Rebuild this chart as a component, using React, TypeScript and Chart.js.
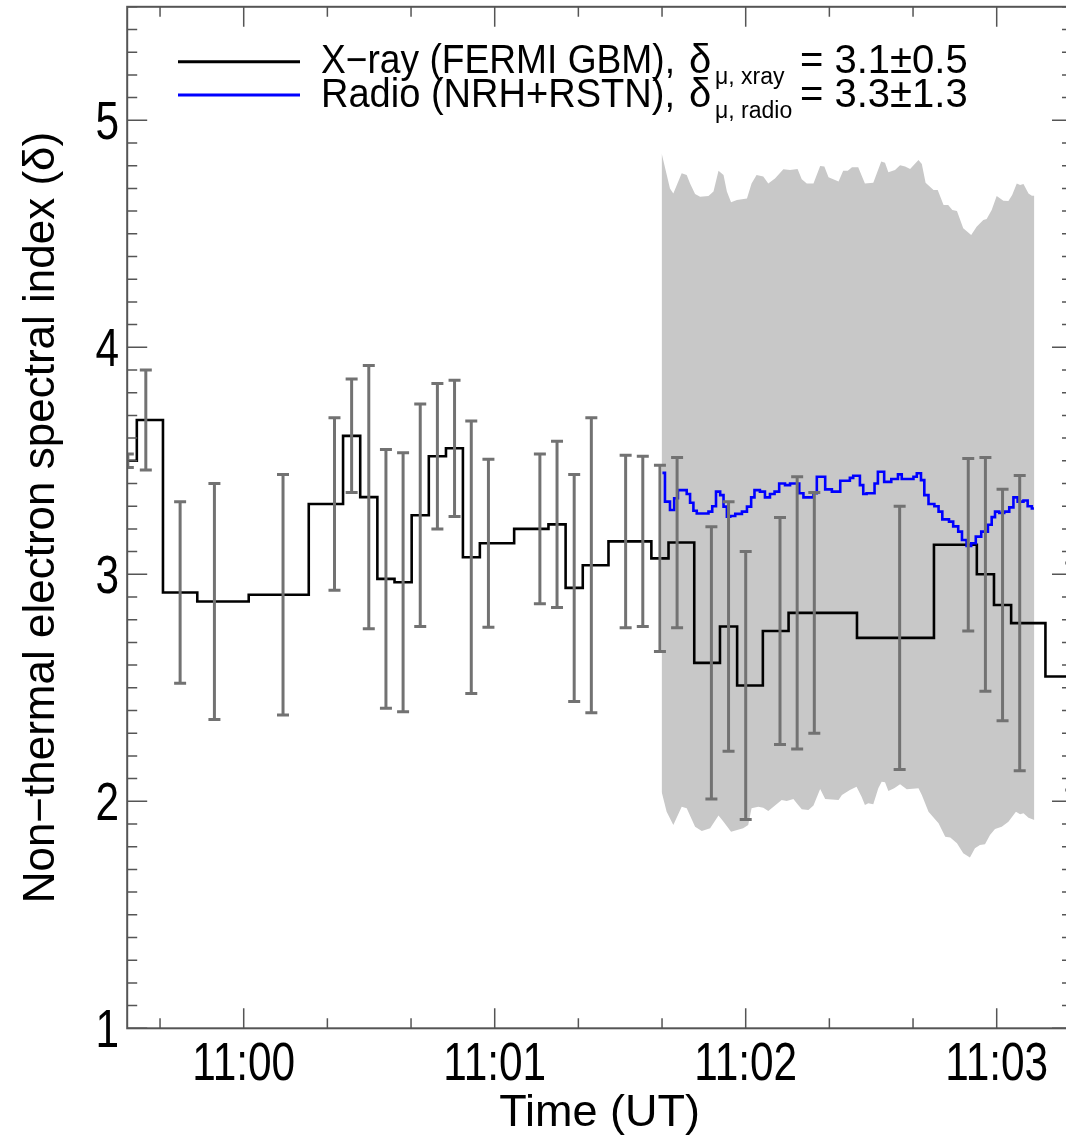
import React, { useEffect, useRef } from 'react';
import { Chart, registerables } from 'chart.js';

Chart.register(...registerables);

// ---- axis ranges (x in seconds after 11:00:00 UT) ----
const X_MIN = -27.85;
const X_MAX = 198.0;
const Y_MIN = 1;
const Y_MAX = 5.5;

const xTickSeconds = [0, 60, 120, 180];
const xTickLabels = ['11:00', '11:01', '11:02', '11:03'];
const yTickValues = [1, 2, 3, 4, 5];
const yTickLabels = ['1', '2', '3', '4', '5'];

// ---- X-ray (FERMI GBM) spectral index ----
const xrayTimes = [
  -27.7, -23.4, -15.2, -7.0, 9.4, 21.7, 25.8, 29.9, 34.0, 38.1, 42.2, 46.3,
  50.4, 54.4, 58.5, 70.8, 74.9, 79.0, 83.1, 91.3, 95.4, 99.5, 103.6, 111.8,
  115.9, 120.0, 128.2, 132.3, 136.4, 156.8, 173.2, 177.3, 181.4, 185.5, 197.8,
];
const xrayDelta = [
  3.50, 3.68, 2.92, 2.88, 2.91, 3.31, 3.61, 3.34, 2.98, 2.965, 3.26, 3.52,
  3.555, 3.075, 3.137, 3.20, 3.22, 2.94, 3.04, 3.145, 3.145, 3.07, 3.14, 2.61,
  2.77, 2.51, 2.75, 2.83, 2.83, 2.72, 3.13, 3.00, 2.865, 2.785, 2.55,
];
const xrayErr = [
  0.03, 0.22, 0.40, 0.52, 0.53, 0.38, 0.25, 0.58, 0.57, 0.57, 0.49, 0.32,
  0.30, 0.60, 0.37, 0.33, 0.366, 0.50, 0.65, 0.38, 0.375, 0.41, 0.375, 0.60,
  0.55, 0.59, 0.50, 0.60, 0.53, 0.58, 0.38, 0.515, 0.51, 0.65, 0.50,
];

// ---- Radio (NRH+RSTN) spectral index (step starts) ----
const radioTimes = [
  100.1, 100.7, 101.9, 102.9, 103.8, 105.9, 106.7, 107.5, 108.3, 111.1, 112.0,
  112.9, 113.9, 114.7, 115.5, 116.3, 117.5, 119.1, 120.3, 121.3, 122.1, 123.4,
  124.6, 125.8, 126.9, 128.0, 129.4, 130.6, 132.8, 133.8, 136.2, 137.0, 139.0,
  140.6, 142.6, 144.9, 145.7, 147.3, 148.1, 148.9, 150.8, 151.6, 153.1, 154.8,
  156.4, 157.3, 160.1, 160.9, 161.9, 162.7, 163.7, 165.1, 166.1, 167.0, 168.6,
  169.6, 170.8, 171.7, 172.8, 173.9, 175.0, 176.3, 177.9, 178.8, 179.6, 180.6,
  181.8, 183.0, 184.0, 185.0, 186.4, 187.4, 188.4, 188.9,
];
const radioDelta = [
  3.447, 3.320, 3.283, 3.335, 3.371, 3.354, 3.315, 3.280, 3.268, 3.276, 3.300,
  3.364, 3.349, 3.298, 3.254, 3.257, 3.266, 3.276, 3.298, 3.339, 3.371, 3.364,
  3.339, 3.354, 3.364, 3.400, 3.393, 3.400, 3.357, 3.339, 3.357, 3.430, 3.374,
  3.364, 3.412, 3.425, 3.434, 3.393, 3.354, 3.357, 3.400, 3.452, 3.407, 3.420,
  3.440, 3.420, 3.430, 3.445, 3.415, 3.349, 3.310, 3.300, 3.276, 3.242, 3.232,
  3.211, 3.188, 3.151, 3.125, 3.137, 3.166, 3.188, 3.218, 3.252, 3.276, 3.270,
  3.276, 3.295, 3.339, 3.320, 3.325, 3.300, 3.290, 3.290,
];

// ---- Radio uncertainty band ----
const bandUpperTimes = [
  99.9, 101.9, 102.7, 104.7, 105.9, 106.7, 107.9, 109.1, 111.1, 112.3, 113.5,
  114.7, 115.5, 116.5, 117.9, 120.3, 121.4, 122.6, 124.2, 125.4, 127.0, 129.0,
  130.6, 132.4, 133.4, 134.6, 136.2, 137.8, 138.8, 139.8, 142.2, 143.3, 144.4,
  145.4, 146.9, 148.5, 150.5, 152.4, 153.3, 154.1, 155.7, 156.9, 158.1, 159.3,
  161.3, 162.1, 163.0, 164.9, 165.9, 167.3, 168.4, 169.4, 170.5, 172.0, 173.9,
  175.2, 176.8, 177.6, 178.8, 180.0, 181.6, 182.8, 183.7, 184.8, 185.6, 186.4,
  187.6, 188.4, 189.0,
];
const bandUpper = [
  4.855, 4.700, 4.678, 4.767, 4.759, 4.722, 4.675, 4.663, 4.667, 4.686, 4.778,
  4.759, 4.686, 4.639, 4.649, 4.656, 4.722, 4.759, 4.752, 4.722, 4.744, 4.784,
  4.781, 4.786, 4.740, 4.722, 4.722, 4.799, 4.796, 4.749, 4.730, 4.778, 4.778,
  4.793, 4.793, 4.722, 4.725, 4.818, 4.813, 4.771, 4.781, 4.802, 4.796, 4.786,
  4.825, 4.807, 4.725, 4.693, 4.693, 4.627, 4.627, 4.605, 4.600, 4.524, 4.495,
  4.531, 4.561, 4.565, 4.605, 4.667, 4.646, 4.645, 4.671, 4.722, 4.715, 4.719,
  4.678, 4.668, 4.668,
];
const bandLowerTimes = [
  99.9, 101.1, 102.7, 104.7, 105.9, 107.9, 109.5, 111.5, 113.5, 114.7, 116.5,
  119.4, 120.6, 121.4, 123.0, 124.2, 125.4, 128.6, 129.8, 131.4, 132.4, 133.4,
  135.0, 136.2, 137.8, 139.0, 142.2, 143.0, 144.9, 146.5, 147.7, 148.5, 149.3,
  150.5, 151.7, 152.5, 153.3, 154.1, 155.5, 156.9, 158.5, 161.3, 162.1, 163.7,
  166.1, 167.7, 168.9, 170.5, 172.0, 173.6, 174.8, 176.0, 177.2, 178.4, 179.6,
  181.2, 182.8, 184.6, 185.6, 186.4, 187.6, 189.0,
];
const bandLower = [
  2.042, 1.954, 1.896, 1.976, 1.969, 1.888, 1.869, 1.881, 1.937, 1.910, 1.866,
  1.881, 1.896, 1.969, 1.976, 1.972, 1.957, 2.006, 2.001, 2.010, 1.987, 1.965,
  1.962, 1.981, 2.054, 2.010, 2.006, 2.028, 2.050, 2.064, 2.020, 1.984, 1.991,
  1.987, 2.057, 2.086, 2.084, 2.045, 2.057, 2.075, 2.053, 2.057, 2.028, 1.954,
  1.903, 1.844, 1.840, 1.815, 1.771, 1.752, 1.793, 1.807, 1.811, 1.852, 1.878,
  1.888, 1.910, 1.954, 1.943, 1.947, 1.928, 1.918,
];

// ---- legend text ----
const legendNames = ['X\u2212ray (FERMI GBM),', 'Radio (NRH+RSTN),'];
const legendSubs = ['\u03bc, xray', '\u03bc, radio'];
const legendValues = ['= 3.1\u00b10.5', '= 3.3\u00b11.3'];
const legendColors = ['#000000', '#0000ff'];

const SANS = "'Liberation Sans', Arial, Helvetica, sans-serif";

const AXIS_COLOR = '#555555';
const ERR_COLOR = '#727272';
const BAND_COLOR = '#c8c8c8';
const TICK_FONT_SIZE = 53;
const TICK_SQUEEZE = 0.8;

const errorBarPlugin = {
  id: 'errorBars',
  afterDatasetsDraw(chart: any) {
    const { ctx, chartArea, scales } = chart;
    const xs = scales.x;
    const ys = scales.y;
    ctx.save();
    ctx.beginPath();
    ctx.rect(chartArea.left, chartArea.top, chartArea.right - chartArea.left, chartArea.bottom - chartArea.top);
    ctx.clip();
    ctx.strokeStyle = ERR_COLOR;
    ctx.lineWidth = 3;
    const cap = 6;
    for (let i = 0; i < xrayTimes.length; i++) {
      const px = xs.getPixelForValue(xrayTimes[i]);
      const top = ys.getPixelForValue(xrayDelta[i] + xrayErr[i]);
      const bot = ys.getPixelForValue(xrayDelta[i] - xrayErr[i]);
      ctx.beginPath();
      ctx.moveTo(px, top);
      ctx.lineTo(px, bot);
      ctx.moveTo(px - cap, top);
      ctx.lineTo(px + cap, top);
      ctx.moveTo(px - cap, bot);
      ctx.lineTo(px + cap, bot);
      ctx.stroke();
    }
    ctx.restore();
  },
};

const framePlugin = {
  id: 'frameTicks',
  afterDraw(chart: any) {
    const { ctx, chartArea, scales } = chart;
    const xs = scales.x;
    const ys = scales.y;
    const { left, right, top, bottom } = chartArea;
    ctx.save();
    ctx.strokeStyle = AXIS_COLOR;
    ctx.lineWidth = 2;
    ctx.strokeRect(left, top, right - left, bottom - top);
    ctx.lineWidth = 1.5;
    ctx.beginPath();
    for (let s = -20; s <= X_MAX; s += 20) {
      if (s < X_MIN) continue;
      const px = xs.getPixelForValue(s);
      const len = xTickSeconds.includes(s) ? 20 : 10;
      ctx.moveTo(px, bottom);
      ctx.lineTo(px, bottom - len);
      ctx.moveTo(px, top);
      ctx.lineTo(px, top + len);
    }
    for (let k = 10; k <= 55; k++) {
      const py = ys.getPixelForValue(k / 10);
      const len = k % 10 === 0 ? 20 : 10;
      ctx.moveTo(left, py);
      ctx.lineTo(left + len, py);
      ctx.moveTo(right, py);
      ctx.lineTo(right - len, py);
    }
    ctx.stroke();

    // tick labels (horizontally condensed, like Helvetica Narrow)
    ctx.fillStyle = '#000';
    ctx.font = `${TICK_FONT_SIZE}px ${SANS}`;
    ctx.textBaseline = 'alphabetic';
    for (let i = 0; i < xTickSeconds.length; i++) {
      const px = xs.getPixelForValue(xTickSeconds[i]);
      ctx.save();
      ctx.translate(px, bottom + 52);
      ctx.scale(TICK_SQUEEZE, 1);
      ctx.textAlign = 'center';
      ctx.fillText(xTickLabels[i], 0, 0);
      ctx.restore();
    }
    for (let i = 0; i < yTickValues.length; i++) {
      const py = ys.getPixelForValue(yTickValues[i]);
      ctx.save();
      ctx.translate(left - 8, py + 19);
      ctx.scale(TICK_SQUEEZE, 1);
      ctx.textAlign = 'right';
      ctx.fillText(yTickLabels[i], 0, 0);
      ctx.restore();
    }
    ctx.restore();
  },
};

const legendPlugin = {
  id: 'deltaLegend',
  afterDraw(chart: any) {
    const { ctx } = chart;
    ctx.save();
    const lineYs = [61.7, 95];
    const bases = [73, 107];
    for (let i = 0; i < legendNames.length; i++) {
      ctx.strokeStyle = legendColors[i];
      ctx.lineWidth = 3;
      ctx.beginPath();
      ctx.moveTo(178, lineYs[i]);
      ctx.lineTo(300, lineYs[i]);
      ctx.stroke();

      ctx.fillStyle = '#000';
      ctx.textBaseline = 'alphabetic';
      ctx.textAlign = 'left';
      ctx.font = `40px ${SANS}`;
      const w = ctx.measureText(legendNames[i]).width;
      const target = 354;
      const sx = Math.min(1, target / w);
      ctx.save();
      ctx.translate(321, bases[i]);
      ctx.scale(sx, 1);
      ctx.fillText(legendNames[i], 0, 0);
      ctx.restore();
      ctx.fillText('\u03b4', 689, bases[i]);
      ctx.font = `23px ${SANS}`;
      ctx.fillText(legendSubs[i], 715, bases[i] + 11);
      ctx.font = `40px ${SANS}`;
      ctx.fillText(legendValues[i], 800, bases[i]);
    }
    ctx.restore();
  },
};

export default function App() {
  const canvasRef = useRef<HTMLCanvasElement | null>(null);

  useEffect(() => {
    const canvas = canvasRef.current;
    if (!canvas) return;

    const toPts = (xs: number[], ys: number[]) => xs.map((x, i) => ({ x, y: ys[i] }));

    const chart = new Chart(canvas, {
      type: 'line',
      data: {
        datasets: [
          {
            label: 'band lower',
            data: toPts(bandLowerTimes, bandLower),
            borderWidth: 0,
            borderColor: 'rgba(0,0,0,0)',
            pointRadius: 0,
            fill: false,
            tension: 0,
            order: 10,
          },
          {
            label: 'band upper',
            data: toPts(bandUpperTimes, bandUpper),
            borderWidth: 0,
            borderColor: 'rgba(0,0,0,0)',
            backgroundColor: BAND_COLOR,
            pointRadius: 0,
            fill: '-1',
            tension: 0,
            order: 9,
          },
          {
            label: 'X-ray (FERMI GBM)',
            data: toPts(xrayTimes, xrayDelta),
            borderColor: '#000000',
            borderWidth: 2.6,
            pointRadius: 0,
            stepped: 'middle',
            fill: false,
            order: 2,
          },
          {
            label: 'Radio (NRH+RSTN)',
            data: toPts(radioTimes, radioDelta),
            borderColor: '#0000ff',
            borderWidth: 2.6,
            pointRadius: 0,
            stepped: 'before',
            fill: false,
            order: 1,
          },
        ],
      },
      options: {
        responsive: false,
        animation: false,
        events: [],
        layout: { padding: { left: 0, right: 8, top: 6.8, bottom: 0 } },
        plugins: {
          legend: { display: false },
          tooltip: { enabled: false },
        },
        scales: {
          x: {
            type: 'linear',
            min: X_MIN,
            max: X_MAX,
            grid: { display: false, drawTicks: false },
            border: { display: false },
            afterFit: (s: any) => {
              s.height = 112.7;
              s.paddingLeft = 0;
              s.paddingRight = 0;
            },
            afterBuildTicks: (s: any) => { s.ticks = xTickSeconds.map((v) => ({ value: v })); },
            ticks: { display: false },
            title: {
              display: true,
              text: 'Time (UT)',
              color: '#000',
              font: { family: SANS, size: 45 },
              padding: { top: 0, bottom: 0 },
            },
          },
          y: {
            type: 'linear',
            min: Y_MIN,
            max: Y_MAX,
            grid: { display: false, drawTicks: false },
            border: { display: false },
            afterFit: (s: any) => {
              s.width = 127.2;
              s.paddingTop = 0;
              s.paddingBottom = 0;
            },
            afterBuildTicks: (s: any) => { s.ticks = yTickValues.map((v) => ({ value: v })); },
            ticks: { display: false },
            title: {
              display: true,
              text: 'Non\u2212thermal electron spectral index (\u03b4)',
              color: '#000',
              font: { family: SANS, size: 44 },
              padding: { top: 15, bottom: 0 },
            },
          },
        },
      },
      plugins: [errorBarPlugin, framePlugin, legendPlugin],
    } as any);

    return () => chart.destroy();
  }, []);

  return (
    <div style={{ position: 'fixed', left: 0, top: 0, width: 1066, height: 1141, overflow: 'hidden', background: '#ffffff' }}>
      <canvas ref={canvasRef} width={1080} height={1141} style={{ display: 'block', width: 1080, height: 1141 }} />
    </div>
  );
}
